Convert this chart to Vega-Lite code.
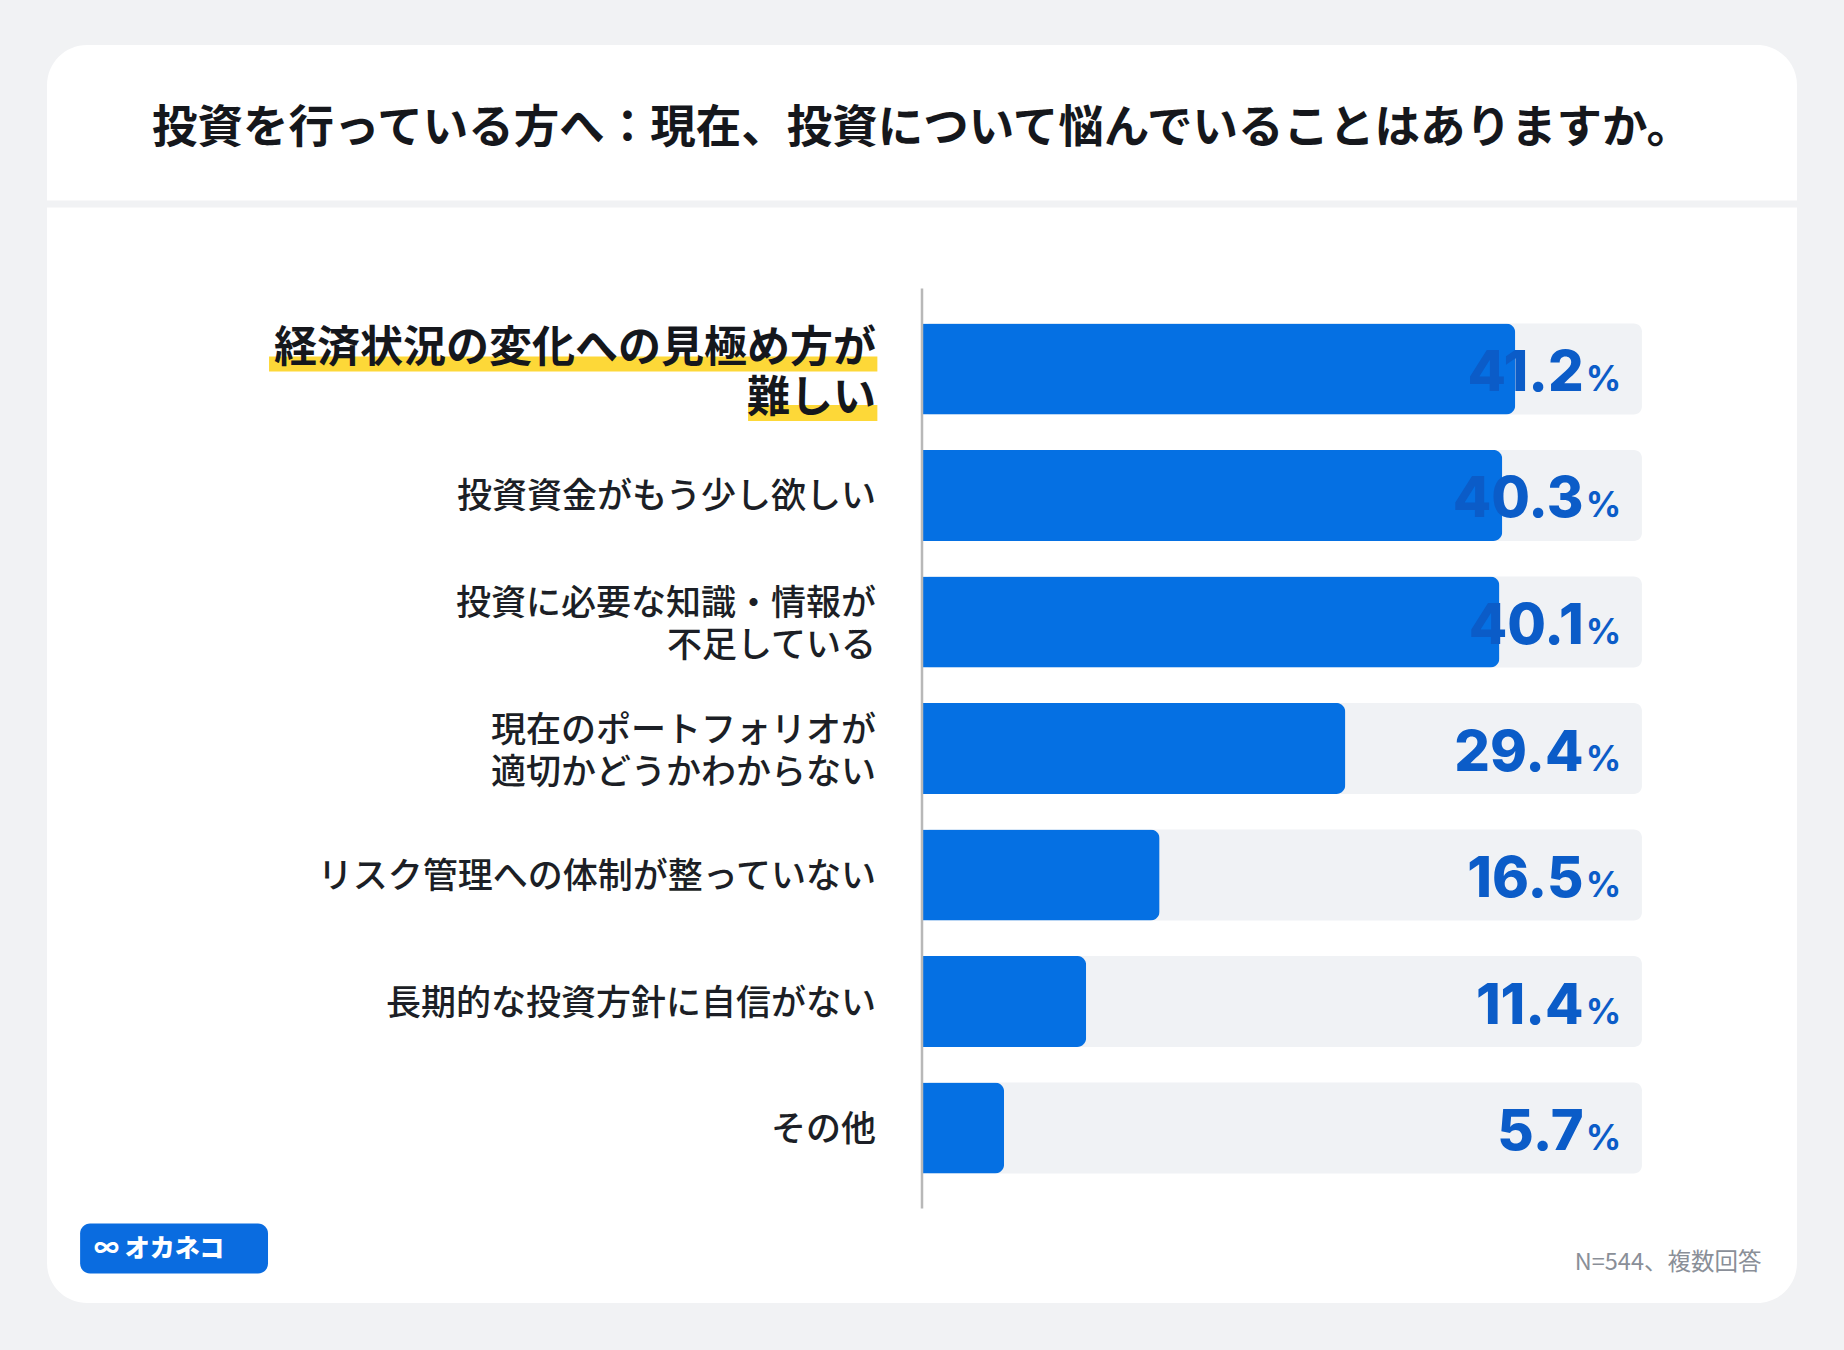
{
  "$schema": "https://vega.github.io/schema/vega-lite/v6.json",
  "width": 1750,
  "height": 1258,
  "autosize": {"type": "none"},
  "padding": {"left": 47, "top": 45, "right": 47, "bottom": 47},
  "background": "#f1f2f4",
  "view": {"fill": "#ffffff", "cornerRadius": 40, "stroke": null},
  "title": {
    "text": "投資を行っている方へ：現在、投資について悩んでいることはありますか。",
    "font": "Noto Sans CJK JP",
    "fontSize": 45.5,
    "fontWeight": 700,
    "color": "#15171c",
    "anchor": "middle",
    "baseline": "middle",
    "offset": -129
  },
  "data": {
    "values": [
      {"item": "経済状況の変化への見極め方が難しい", "label": "経済状況の変化への見極め方が\n難しい", "value": 41.2},
      {"item": "投資資金がもう少し欲しい", "label": "投資資金がもう少し欲しい", "value": 40.3},
      {"item": "投資に必要な知識・情報が不足している", "label": "投資に必要な知識・情報が\n不足している", "value": 40.1},
      {"item": "現在のポートフォリオが適切かどうかわからない", "label": "現在のポートフォリオが\n適切かどうかわからない", "value": 29.4},
      {"item": "リスク管理への体制が整っていない", "label": "リスク管理への体制が整っていない", "value": 16.5},
      {"item": "長期的な投資方針に自信がない", "label": "長期的な投資方針に自信がない", "value": 11.4},
      {"item": "その他", "label": "その他", "value": 5.7}
    ]
  },
  "encoding": {
    "y": {
      "field": "item",
      "type": "nominal",
      "sort": null,
      "axis": null,
      "scale": {
        "domain": ["経済状況の変化への見極め方が難しい", "投資資金がもう少し欲しい", "投資に必要な知識・情報が不足している", "現在のポートフォリオが適切かどうかわからない", "リスク管理への体制が整っていない", "長期的な投資方針に自信がない", "その他"],
        "range": [243, 1164],
        "paddingInner": 0.28,
        "paddingOuter": 0.28
      }
    }
  },
  "layer": [
    {
      "transform": [{"filter": "datum.item === '経済状況の変化への見極め方が難しい'"}],
      "mark": {"type": "rule", "color": "#f1f2f4", "strokeWidth": 7, "yOffset": -165},
      "encoding": {
        "x": {"datum": -60.77, "type": "quantitative", "scale": {"domain": [-60.77, 60.77], "nice": false, "zero": false}, "axis": null},
        "x2": {"datum": 60.77}
      }
    },
    {
      "mark": {"type": "bar", "color": "#f0f2f5", "cornerRadiusEnd": 8},
      "encoding": {
        "x": {"datum": 0, "type": "quantitative"},
        "x2": {"datum": 50}
      }
    },
    {
      "mark": {"type": "bar", "color": "#0570e3", "cornerRadiusEnd": 9},
      "encoding": {
        "x": {"field": "value", "type": "quantitative"}
      }
    },
    {
      "transform": [{"filter": "datum.item === '経済状況の変化への見極め方が難しい'"}],
      "mark": {"type": "bar", "color": "#fdd838", "height": 15, "yOffset": -5},
      "encoding": {
        "x": {"datum": -45.35, "type": "quantitative"},
        "x2": {"datum": -3.1}
      }
    },
    {
      "transform": [{"filter": "datum.item === '経済状況の変化への見極め方が難しい'"}],
      "mark": {"type": "bar", "color": "#fdd838", "height": 16, "yOffset": 44},
      "encoding": {
        "x": {"datum": -12.08, "type": "quantitative"},
        "x2": {"datum": -3.1}
      }
    },
    {
      "transform": [{"filter": "datum.item === '経済状況の変化への見極め方が難しい'"}],
      "mark": {"type": "text", "align": "right", "baseline": "middle", "font": "Noto Sans CJK JP", "fontSize": 43, "fontWeight": 700, "lineHeight": 50, "lineBreak": "\n", "color": "#15171c", "dy": -20},
      "encoding": {
        "x": {"datum": -3.2, "type": "quantitative"},
        "text": {"field": "label"}
      }
    },
    {
      "transform": [{"filter": "datum.item !== '経済状況の変化への見極め方が難しい' && indexof(datum.label, '\\n') >= 0"}],
      "mark": {"type": "text", "align": "right", "baseline": "middle", "font": "Noto Sans CJK JP", "fontSize": 35, "fontWeight": 500, "lineHeight": 42, "lineBreak": "\n", "color": "#1c1f26", "dy": -18},
      "encoding": {
        "x": {"datum": -3.2, "type": "quantitative"},
        "text": {"field": "label"}
      }
    },
    {
      "transform": [{"filter": "indexof(datum.label, '\\n') < 0"}],
      "mark": {"type": "text", "align": "right", "baseline": "middle", "font": "Noto Sans CJK JP", "fontSize": 35, "fontWeight": 500, "color": "#1c1f26", "dy": 2},
      "encoding": {
        "x": {"datum": -3.2, "type": "quantitative"},
        "text": {"field": "label"}
      }
    },
    {
      "mark": {"type": "text", "align": "right", "baseline": "alphabetic", "font": "Inter", "fontSize": 56, "fontWeight": 800, "color": "#0b5cc8", "dy": 22},
      "encoding": {
        "x": {"datum": 45.95, "type": "quantitative"},
        "text": {"field": "value", "type": "quantitative", "format": ".1f"}
      }
    },
    {
      "mark": {"type": "text", "align": "left", "baseline": "alphabetic", "font": "Inter", "fontSize": 35, "fontWeight": 700, "color": "#0b5cc8", "dy": 22},
      "encoding": {
        "x": {"datum": 46.1, "type": "quantitative"},
        "text": {"value": "%"}
      }
    },
    {
      "transform": [{"filter": "datum.item === '経済状況の変化への見極め方が難しい'"}],
      "mark": {"type": "rule", "color": "#b8b8b8", "strokeWidth": 2.5, "yOffset": -80.5, "y2Offset": 80.5},
      "encoding": {
        "x": {"datum": 0, "type": "quantitative"},
        "y": {"datum": "経済状況の変化への見極め方が難しい", "type": "nominal"},
        "y2": {"datum": "その他"}
      }
    },
    {
      "transform": [{"filter": "datum.item === 'その他'"}],
      "mark": {"type": "bar", "color": "#0a6ce0", "height": 50, "yOffset": 120.5, "cornerRadius": 10},
      "encoding": {
        "x": {"datum": -58.47, "type": "quantitative"},
        "x2": {"datum": -45.42}
      }
    },
    {
      "transform": [{"filter": "datum.item === 'その他'"}],
      "mark": {"type": "text", "align": "left", "baseline": "middle", "font": "Noto Sans CJK JP", "fontSize": 25, "fontWeight": 900, "color": "#ffffff", "dy": 120.5},
      "encoding": {
        "x": {"datum": -57.5, "type": "quantitative"},
        "text": {"value": "∞ オカネコ"}
      }
    },
    {
      "transform": [{"filter": "datum.item === 'その他'"}],
      "mark": {"type": "text", "align": "right", "baseline": "middle", "font": "Noto Sans CJK JP", "fontSize": 23.5, "fontWeight": 400, "color": "#8a8f98", "dy": 134.5},
      "encoding": {
        "x": {"datum": 58.3, "type": "quantitative"},
        "text": {"value": "N=544、複数回答"}
      }
    }
  ]
}
